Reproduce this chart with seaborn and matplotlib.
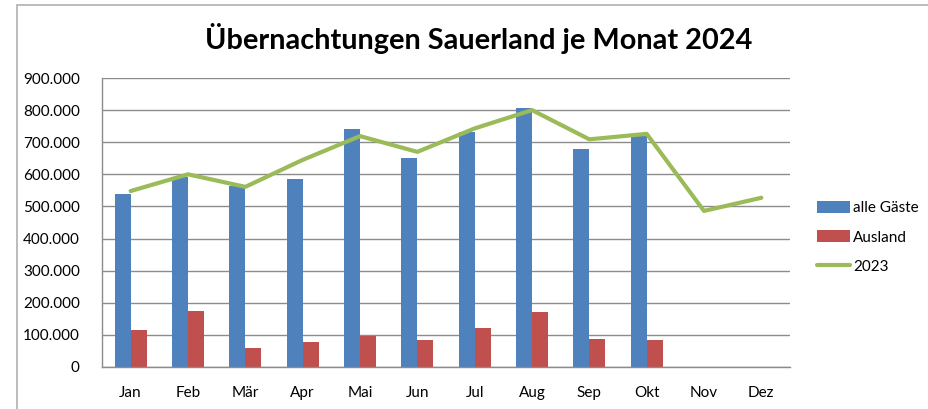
import numpy as np
import pandas as pd
import matplotlib
matplotlib.use("Agg")
import matplotlib.pyplot as plt
import matplotlib.ticker as mticker
from matplotlib.patches import Rectangle
import seaborn as sns

# Daten
monate = ["Jan", "Feb", "Mär", "Apr", "Mai", "Jun", "Jul", "Aug", "Sep", "Okt", "Nov", "Dez"]
alle_gaeste = [539000, 593000, 564000, 585000, 740000, 650000, 731000, 807000, 678000, 719000, np.nan, np.nan]
ausland = [115000, 175000, 60000, 77000, 97000, 84000, 120000, 170000, 87000, 84000, np.nan, np.nan]
vorjahr_2023 = [548000, 600000, 561000, 645000, 719000, 670000, 743000, 800000, 709000, 726000, 486000, 527000]

df = pd.DataFrame({
    "Monat": monate * 2,
    "Wert": alle_gaeste + ausland,
    "Reihe": ["alle Gäste"] * 12 + ["Ausland"] * 12,
})

sns.set_style("white")
plt.rcParams["font.family"] = ["Lato", "DejaVu Sans"]
plt.rcParams["text.color"] = "black"

fig = plt.figure(figsize=(9.29, 4.09), dpi=100)
ax = fig.add_axes([102 / 929, 1 - 367 / 409, 688 / 929, 289 / 409])

sns.barplot(data=df, x="Monat", y="Wert", hue="Reihe", order=monate,
            palette=["#4F81BD", "#C0504D"], width=0.56, saturation=1,
            edgecolor="none", ax=ax)
sns.pointplot(x=monate, y=vorjahr_2023, order=monate, color="#9BBB59",
              marker="", linewidth=3, errorbar=None, label="2023", ax=ax)

ax.set_ylim(0, 900000)
ax.yaxis.set_major_locator(mticker.MultipleLocator(100000))
ax.yaxis.set_major_formatter(mticker.FuncFormatter(lambda v, p: f"{v:,.0f}".replace(",", ".")))
ax.yaxis.grid(True, color="#8c8c8c", linewidth=1)
ax.set_axisbelow(True)
ax.set_xlabel("")
ax.set_ylabel("")
for s in ["top", "right"]:
    ax.spines[s].set_visible(False)
for s in ["left", "bottom"]:
    ax.spines[s].set_color("#8c8c8c")
    ax.spines[s].set_linewidth(1)
ax.tick_params(axis="both", length=0, labelsize=11, colors="black")
ax.tick_params(axis="x", pad=14)
ax.tick_params(axis="y", pad=16)

handles, labels = ax.get_legend_handles_labels()
ax.legend(handles, labels, loc="center left", bbox_to_anchor=(1.03, 0.448),
          frameon=False, fontsize=11, handlelength=2.15, handleheight=0.8,
          handletextpad=0.25, labelspacing=1.0, borderaxespad=0,
          labelcolor="black")

fig.text(479 / 929, 1 - 38 / 409, "Übernachtungen Sauerland je Monat 2024",
         ha="center", va="center", fontsize=20.8, fontweight="bold", color="black")

# Rahmen des Diagrammbereichs
fig.patches.append(Rectangle((17 / 929, -0.1), 1.1, 0.1 + 1 - 5 / 409,
                             transform=fig.transFigure, fill=False,
                             edgecolor="#b0b0b0", linewidth=1.2))

fig.savefig("out.png", dpi=100)
